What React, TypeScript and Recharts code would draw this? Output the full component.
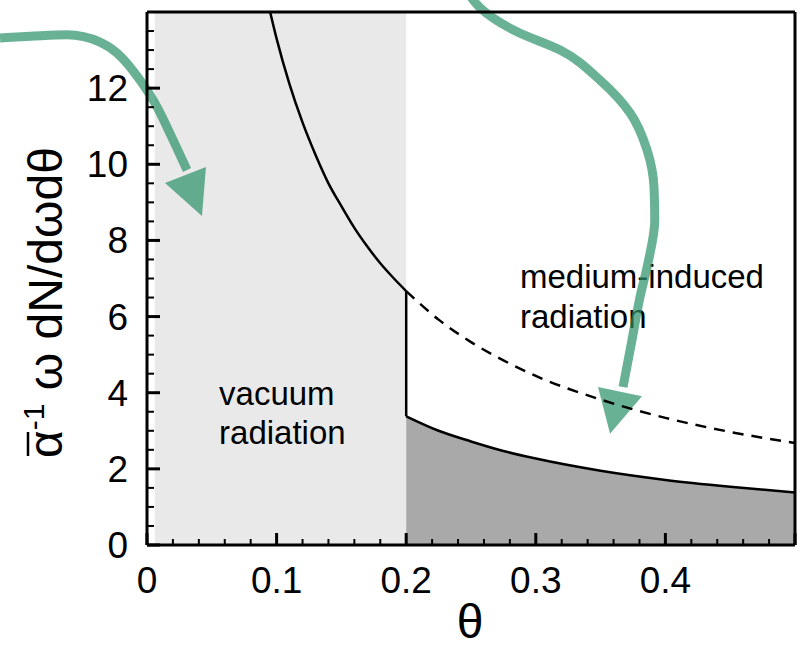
import React from 'react';
import * as R from 'recharts';
import {
  ComposedChart,
  XAxis,
  YAxis,
  Line,
  Area,
  ReferenceLine,
  Curve,
} from 'recharts';

// ---- axis ----
const X_DOMAIN: [number, number] = [0, 0.5];
const Y_DOMAIN: [number, number] = [0, 14];
const xTicks = [
  0, 0.02, 0.04, 0.06, 0.08, 0.1, 0.12, 0.14, 0.16, 0.18, 0.2, 0.22, 0.24, 0.26,
  0.28, 0.3, 0.32, 0.34, 0.36, 0.38, 0.4, 0.42, 0.44, 0.46, 0.48, 0.5,
];
const xMajorLabels = ['0', '0.1', '0.2', '0.3', '0.4'];
const yTicks = [
  0, 0.5, 1, 1.5, 2, 2.5, 3, 3.5, 4, 4.5, 5, 5.5, 6, 6.5, 7, 7.5, 8, 8.5, 9, 9.5,
  10, 10.5, 11, 11.5, 12, 12.5, 13, 13.5, 14,
];
const yMajorLabels = ['0', '2', '4', '6', '8', '10', '12'];

// ---- series ----
const upperTheta = [0.095, 0.1, 0.11, 0.12, 0.13, 0.14, 0.15, 0.16, 0.17, 0.18, 0.19, 0.2];
const upperValue = [14.0, 13.3, 12.1, 11.1, 10.25, 9.5, 8.9, 8.33, 7.84, 7.4, 7.02, 6.67];
const dashedTheta = [0.2, 0.225, 0.25, 0.275, 0.3, 0.35, 0.4, 0.45, 0.5];
const dashedValue = [6.67, 5.92, 5.33, 4.85, 4.44, 3.82, 3.34, 2.97, 2.68];
const lowerTheta = [0.2, 0.225, 0.25, 0.275, 0.3, 0.35, 0.4, 0.45, 0.5];
const lowerValue = [3.38, 3.0, 2.72, 2.47, 2.27, 1.95, 1.71, 1.53, 1.38];
const vacuumRegion = { from: 0.006, to: 0.2 };

// ---- annotations (data coordinates) ----
const leftArrowTheta = [-0.1134, -0.09, -0.0617, -0.0363, -0.0231, -0.0054, 0.0077, 0.0201, 0.0309];
const leftArrowValue = [13.32, 13.36, 13.4, 13.21, 12.92, 12.21, 11.51, 10.64, 9.85];
const leftHeadTheta = [0.0139, 0.0455, 0.0424];
const leftHeadValue = [9.51, 9.93, 8.64];
const rightArrowTheta = [0.2477, 0.2515, 0.267, 0.2855, 0.3187, 0.3495, 0.3727, 0.3858, 0.3912, 0.3918, 0.3866, 0.3804, 0.3742, 0.3673];
const rightArrowValue = [14.53, 14.32, 13.84, 13.48, 13.0, 12.21, 11.35, 10.38, 9.4, 8.54, 7.41, 6.51, 5.38, 4.15];
const rightHeadTheta = [0.348, 0.3819, 0.3573];
const rightHeadValue = [4.15, 3.91, 2.92];
const vacuumText = ['vacuum', 'radiation'];
const vacuumTextPos = { theta: 0.0556, value: [3.68, 2.64] };
const mediumText = ['medium-induced', 'radiation'];
const mediumTextPos = { theta: 0.2878, value: [6.75, 5.7] };

const upperData = upperTheta.map((x, i) => ({ x, y: upperValue[i] }));
const dashedData = dashedTheta.map((x, i) => ({ x, y: dashedValue[i] }));
const lowerData = lowerTheta.map((x, i) => ({ x, y: lowerValue[i] }));

const FONT = '"Liberation Sans", Arial, Helvetica, sans-serif';
const GREEN = 'rgb(43,145,104)';

const W = 801;
const H = 648;
const MARGIN = { top: 12, right: 6, bottom: 0, left: 0 };
const Y_AXIS_W = 147;
const X_AXIS_H = 103;

const usePlotAreaHook: any = (R as any).usePlotArea;

function useArea() {
  const pa = usePlotAreaHook ? usePlotAreaHook() : null;
  if (pa && pa.width > 0) return pa;
  return {
    x: MARGIN.left + Y_AXIS_W,
    y: MARGIN.top,
    width: W - MARGIN.left - MARGIN.right - Y_AXIS_W,
    height: H - MARGIN.top - MARGIN.bottom - X_AXIS_H,
  };
}

function Overlay() {
  const a = useArea();
  const sx = (t: number) => a.x + ((t - X_DOMAIN[0]) / (X_DOMAIN[1] - X_DOMAIN[0])) * a.width;
  const sy = (v: number) => a.y + a.height - ((v - Y_DOMAIN[0]) / (Y_DOMAIN[1] - Y_DOMAIN[0])) * a.height;
  const pts = (ts: number[], vs: number[]) => ts.map((t, i) => ({ x: sx(t), y: sy(vs[i]) }));
  const poly = (ts: number[], vs: number[]) =>
    ts.map((t, i) => `${sx(t)},${sy(vs[i])}`).join(' ');
  const yLabelBase = 458;
  return (
    <g>
      <rect
        x={sx(vacuumRegion.from)}
        y={sy(Y_DOMAIN[1])}
        width={sx(vacuumRegion.to) - sx(vacuumRegion.from)}
        height={sy(Y_DOMAIN[0]) - sy(Y_DOMAIN[1])}
        fill="#e9e9e9"
      />
      <g fontFamily={FONT} fontSize={33} fill="#000">
        {vacuumText.map((s, i) => (
          <text key={'v' + i} x={sx(vacuumTextPos.theta)} y={sy(vacuumTextPos.value[i])}>
            {s}
          </text>
        ))}
        {mediumText.map((s, i) => (
          <text key={'m' + i} x={sx(mediumTextPos.theta)} y={sy(mediumTextPos.value[i])}>
            {s}
          </text>
        ))}
      </g>
      <g opacity={0.7}>
        <Curve type="monotoneX" points={pts(leftArrowTheta, leftArrowValue)} stroke={GREEN} strokeWidth={9} fill="none" />
        <polygon points={poly(leftHeadTheta, leftHeadValue)} fill={GREEN} />
      </g>
      <g opacity={0.7}>
        <Curve type="monotoneY" points={pts(rightArrowTheta, rightArrowValue)} stroke={GREEN} strokeWidth={9} fill="none" />
        <polygon points={poly(rightHeadTheta, rightHeadValue)} fill={GREEN} />
      </g>
      <text
        x={a.x + a.width / 2 - 1}
        y={H - 10}
        textAnchor="middle"
        fontFamily={FONT}
        fontSize={48}
        fill="#000"
      >
        θ
      </text>
      <g transform={`translate(62, ${yLabelBase}) rotate(-90)`}>
        <text x={0} y={0} textAnchor="start" fontFamily={FONT} fontSize={48} fill="#000">
          <tspan>α</tspan>
          <tspan dy={-18} fontSize={30}>-1</tspan>
          <tspan dy={18}> ω dN/dωdθ</tspan>
        </text>
        <line x1={2} x2={26} y1={-34} y2={-34} stroke="#000" strokeWidth={2.5} />
      </g>
    </g>
  );
}

const isMajorX = (v: number) => Math.abs(v * 10 - Math.round(v * 10)) < 1e-6;
const isMajorY = (v: number) => Math.abs(v / 2 - Math.round(v / 2)) < 1e-6;

function XTick(props: any) {
  const { x, y, payload } = props;
  const v = payload.value as number;
  const major = isMajorX(v);
  const idx = Math.round(v * 10);
  const label = major && idx < xMajorLabels.length ? xMajorLabels[idx] : null;
  return (
    <g>
      <line x1={x} x2={x} y1={y} y2={y - (major ? 12 : 6)} stroke="#000" strokeWidth={major ? 3 : 2} />
      {label !== null && (
        <text x={x} y={y + 48} textAnchor="middle" fontFamily={FONT} fontSize={37} fill="#000">
          {label}
        </text>
      )}
    </g>
  );
}

function YTick(props: any) {
  const { x, y, payload } = props;
  const v = payload.value as number;
  const major = isMajorY(v);
  const idx = Math.round(v / 2);
  const label = major && idx < yMajorLabels.length ? yMajorLabels[idx] : null;
  if (v >= 14) return <g />;
  return (
    <g>
      <line x1={x} x2={x + (major ? 13 : 7)} y1={y} y2={y} stroke="#000" strokeWidth={major ? 3 : 2} />
      {label !== null && (
        <text x={x - 19} y={y + 13} textAnchor="end" fontFamily={FONT} fontSize={37} fill="#000">
          {label}
        </text>
      )}
    </g>
  );
}

export default function App() {
  return (
    <div style={{ position: 'absolute', left: 0, top: 0, background: '#fff' }}>
      <ComposedChart width={W} height={H} margin={MARGIN}>
        <Overlay />
        <XAxis
          type="number"
          dataKey="x"
          domain={X_DOMAIN}
          allowDataOverflow
          ticks={xTicks}
          interval={0}
          tickSize={0}
          tickMargin={0}
          tickLine={false}
          axisLine={false}
          tick={<XTick />}
          height={X_AXIS_H}
        />
        <YAxis
          type="number"
          dataKey="y"
          domain={Y_DOMAIN}
          allowDataOverflow
          ticks={yTicks}
          interval={0}
          tickSize={0}
          tickMargin={0}
          tickLine={false}
          axisLine={false}
          tick={<YTick />}
          width={Y_AXIS_W}
        />
        <Area
          data={lowerData}
          dataKey="y"
          type="monotone"
          fill="#a9a9a9"
          fillOpacity={1}
          stroke="#000"
          strokeWidth={2.5}
          isAnimationActive={false}
          dot={false}
          activeDot={false}
        />
        <Line
          data={upperData}
          dataKey="y"
          type="monotone"
          stroke="#000"
          strokeWidth={2.5}
          dot={false}
          activeDot={false}
          isAnimationActive={false}
        />
        <Line
          data={dashedData}
          dataKey="y"
          type="monotone"
          stroke="#000"
          strokeWidth={2.5}
          strokeDasharray="11 8"
          dot={false}
          activeDot={false}
          isAnimationActive={false}
        />
        <ReferenceLine
          segment={[
            { x: lowerTheta[0], y: lowerValue[0] },
            { x: upperTheta[upperTheta.length - 1], y: upperValue[upperValue.length - 1] },
          ]}
          stroke="#000"
          strokeWidth={2.5}
        />
        <ReferenceLine x={X_DOMAIN[0]} stroke="#000" strokeWidth={3} />
        <ReferenceLine x={X_DOMAIN[1]} stroke="#000" strokeWidth={3} />
        <ReferenceLine y={Y_DOMAIN[0]} stroke="#000" strokeWidth={3} />
        <ReferenceLine y={Y_DOMAIN[1]} stroke="#000" strokeWidth={3} />
      </ComposedChart>
    </div>
  );
}
